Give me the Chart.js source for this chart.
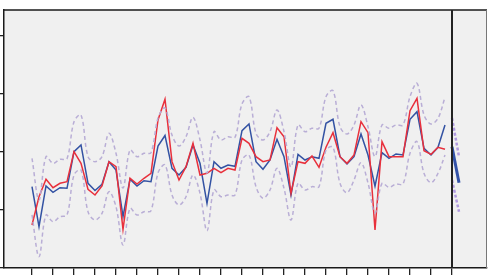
<!DOCTYPE html>
<html>
<head>
<meta charset="utf-8">
<script src="https://cdn.jsdelivr.net/npm/chart.js@4/dist/chart.umd.min.js"></script>
<style>
html,body{margin:0;padding:0;background:#ffffff;}
canvas{display:block;}
</style>
</head>
<body>
<canvas id="c" width="491" height="279"></canvas>
<script>
// observed series (index = period number)
const actual = [1.402,0.712,1.414,1.305,1.384,1.374,2.005,2.121,1.460,1.336,
  1.443,1.833,1.690,0.884,1.529,1.414,1.505,1.488,2.103,2.284,
  1.719,1.603,1.736,2.121,1.805,1.116,1.833,1.719,1.776,1.753,
  2.367,2.483,1.833,1.702,1.862,2.219,1.919,1.259,1.960,1.862,
  1.919,1.891,2.495,2.564,1.919,1.793,1.919,2.310,1.948,1.409,
  1.988,1.891,1.966,1.948,2.564,2.695,2.064,1.948,2.081,2.466];
const fitted = [0.741,1.229,1.529,1.384,1.460,1.488,2.005,1.805,1.357,1.259,
  1.414,1.833,1.747,0.667,1.547,1.448,1.547,1.633,2.552,2.909,
  1.833,1.517,1.747,2.150,1.603,1.633,1.719,1.643,1.719,1.690,
  2.236,2.150,1.919,1.833,1.862,2.419,2.264,1.288,1.833,1.805,
  1.931,1.736,2.081,2.333,1.919,1.805,1.948,2.522,2.333,0.655,
  2.178,1.919,1.919,1.919,2.712,2.926,2.022,1.960,2.081,2.047];
const upperBand = [1.891,1.172,1.919,1.805,1.874,1.884,2.522,2.638,1.919,1.833,
  1.919,2.322,1.978,1.379,2.034,1.919,1.978,1.988,2.586,2.759,
  2.293,2.103,2.264,2.598,2.207,1.638,2.350,2.207,2.264,2.253,
  2.828,2.953,2.322,2.207,2.350,2.724,2.350,1.741,2.466,2.350,
  2.409,2.409,2.953,3.057,2.436,2.310,2.466,2.810,2.436,1.919,
  2.466,2.409,2.466,2.466,2.953,3.184,2.638,2.483,2.581,2.943];
const lowerBand = [0.914,0.195,0.914,0.798,0.884,0.914,1.603,1.690,0.971,0.828,
  0.943,1.316,1.057,0.397,1.029,0.914,0.971,0.988,1.638,1.776,
  1.259,1.086,1.229,1.603,1.288,0.643,1.345,1.229,1.259,1.259,
  1.862,1.948,1.402,1.202,1.345,1.719,1.374,0.828,1.460,1.345,
  1.402,1.402,2.034,2.081,1.460,1.298,1.517,1.816,1.466,0.948,
  1.460,1.391,1.448,1.448,1.978,2.178,1.633,1.471,1.633,1.948];
// forecast (starts at the origin period)
const forecastStart = 60;
const forecastMean = [2.091,1.471];
const forecastUpper = [2.586,1.919];
const forecastLower = [1.517,0.971];
// axis ticks
const xTickValues = [0,3,6,9,12,15,18,21,24,27,30,33,36,39,42,45,48,51,54,57,60];
const yTickValues = [0,1,2,3,4];

const toPts = (arr, start) => arr.map((v, i) => ({x: start + i, y: v}));

const frame = {
  id: 'frame',
  beforeDraw(chart) {
    const {ctx, chartArea: a} = chart;
    ctx.save();
    ctx.fillStyle = '#f0f0f0';
    ctx.fillRect(a.left, a.top, a.right - a.left, a.bottom - a.top);
    ctx.restore();
  },
  afterDraw(chart) {
    const {ctx, chartArea: a, scales} = chart;
    ctx.save();
    ctx.strokeStyle = '#1a1a1a';
    ctx.lineWidth = 1.5;
    ctx.beginPath();
    ctx.moveTo(a.left, a.top); ctx.lineTo(a.right, a.top);
    ctx.stroke();
    ctx.strokeStyle = '#777';
    ctx.lineWidth = 1;
    ctx.beginPath();
    ctx.moveTo(a.right - 0.5, a.top); ctx.lineTo(a.right - 0.5, a.bottom);
    ctx.stroke();
    const xv = scales.x.getPixelForValue(forecastStart);
    ctx.strokeStyle = '#222';
    ctx.lineWidth = 2;
    ctx.beginPath();
    ctx.moveTo(xv, a.top); ctx.lineTo(xv, a.bottom);
    ctx.stroke();
    ctx.restore();
  }
};

new Chart(document.getElementById('c'), {
  type: 'line',
  data: {
    datasets: [
      {data: toPts(upperBand, 0), borderColor: '#b9aed6', borderWidth: 1.5, borderDash: [4,3], tension: 0.35, pointRadius: 0},
      {data: toPts(lowerBand, 0), borderColor: '#b9aed6', borderWidth: 1.5, borderDash: [4,3], tension: 0.35, pointRadius: 0},
      {data: toPts(fitted, 0), borderColor: '#e8303c', borderWidth: 1.5, tension: 0, pointRadius: 0},
      {data: toPts(actual, 0), borderColor: '#3352a3', borderWidth: 1.5, tension: 0, pointRadius: 0},
      {data: toPts(forecastUpper, forecastStart), borderColor: '#b09ae0', borderWidth: 2.5, borderDash: [3,2], tension: 0, pointRadius: 0},
      {data: toPts(forecastLower, forecastStart), borderColor: '#b09ae0', borderWidth: 2.5, borderDash: [3,2], tension: 0, pointRadius: 0},
      {data: toPts(forecastMean, forecastStart), borderColor: '#3352a8', borderWidth: 3, tension: 0, pointRadius: 0}
    ]
  },
  options: {
    responsive: false,
    animation: false,
    devicePixelRatio: 1,
    layout: {padding: {top: 10, right: 4, bottom: 4, left: 0}},
    plugins: {legend: {display: false}, tooltip: {enabled: false}},
    scales: {
      x: {
        type: 'linear', min: -4, max: 65,
        afterBuildTicks(s) { s.ticks = xTickValues.map(v => ({value: v})); },
        ticks: {display: false},
        grid: {drawOnChartArea: false, drawTicks: true, tickLength: 7, color: '#222', lineWidth: 1.3},
        border: {display: true, color: '#1a1a1a', width: 1.5}
      },
      y: {
        type: 'linear', min: 0, max: 4.448,
        afterBuildTicks(s) { s.ticks = yTickValues.map(v => ({value: v})); },
        ticks: {display: false},
        grid: {drawOnChartArea: false, drawTicks: true, tickLength: 4, color: '#222', lineWidth: 1.3},
        border: {display: true, color: '#1a1a1a', width: 1.5}
      }
    }
  },
  plugins: [frame]
});
</script>
</body>
</html>
